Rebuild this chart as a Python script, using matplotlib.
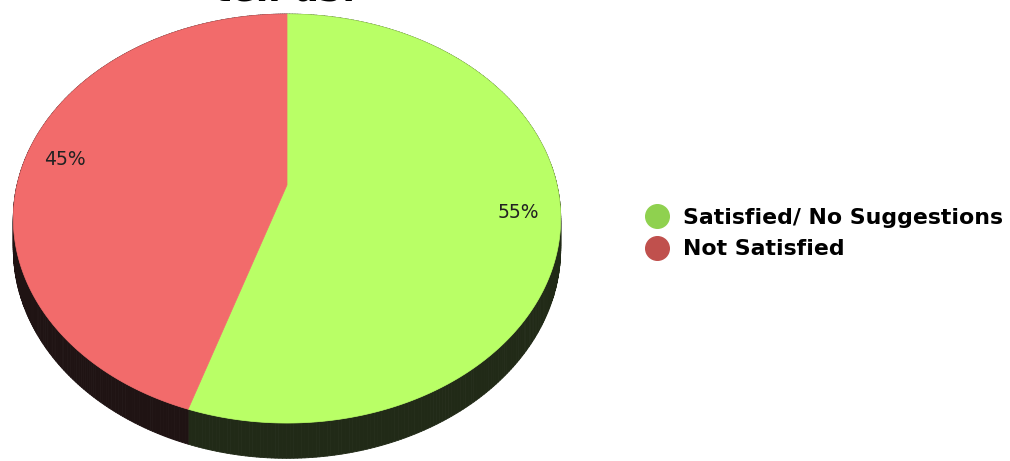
import numpy as np
import matplotlib.pyplot as plt
from matplotlib.patches import Polygon
from matplotlib.collections import PolyCollection
from matplotlib.lines import Line2D

labels = ['Satisfied/ No Suggestions', 'Not Satisfied']
values = [55, 45]
top_colors = ['#B9FF66', '#F26B6B']
side_colors = ['#212A17', '#1F1313']
legend_colors = ['#8FD14F', '#C0504D']
title = 'tell us!'

# pie geometry in pixels (fake 3d with a bit of perspective)
cx, cy = 287, 185
A, B = 270, 199
k = 0.164
depth = 29.5


def proj(t):
    x, z = np.cos(t), np.sin(t)
    w = 1 + k * z
    return cx + A * x / w, cy - B * z / w, w


fig = plt.figure(figsize=(10.1, 4.61), dpi=100)
ax = fig.add_axes([0, 0, 1, 1])
ax.set_xlim(0, 1010)
ax.set_ylim(461, 0)
ax.axis('off')

fracs = np.array(values) / sum(values)
starts = np.pi / 2 - np.concatenate([[0], np.cumsum(fracs)[:-1]]) * 2 * np.pi
ends = starts - fracs * 2 * np.pi

# sides first
for s, e, col in zip(starts, ends, side_colors):
    t = np.linspace(s, e, 300)
    px, py, w = proj(t)
    d = depth / w
    quads = []
    for i in range(len(t) - 1):
        quads.append([(px[i], py[i]), (px[i + 1], py[i + 1]),
                      (px[i + 1], py[i + 1] + d[i + 1]), (px[i], py[i] + d[i])])
    ax.add_collection(PolyCollection(quads, facecolors=col, edgecolors=col,
                                     linewidths=0.6))

# top faces
for s, e, col in zip(starts, ends, top_colors):
    t = np.linspace(s, e, 300)
    px, py, w = proj(t)
    pts = np.column_stack([np.r_[cx, px], np.r_[cy, py]])
    ax.add_patch(Polygon(pts, closed=True, facecolor=col, edgecolor=col,
                         linewidth=0.5))

# percent labels
for s, e, v in zip(starts, ends, values):
    m = (s + e) / 2
    x, z = 0.85 * np.cos(m), 0.85 * np.sin(m)
    w = 1 + k * z
    ax.text(cx + A * x / w, cy - B * z / w, f'{v}%', ha='center', va='center',
            fontsize=13.5, color='#222222')

handles = [Line2D([], [], marker='o', linestyle='', markersize=17,
                  markerfacecolor=c, markeredgecolor=c) for c in legend_colors]
ax.legend(handles, labels, loc='center left', bbox_to_anchor=(0.629, 0.493),
          frameon=False, handletextpad=0.66, labelspacing=0.51,
          prop={'weight': 'bold', 'size': 15.8}, borderpad=0, handlelength=1.0)

fig.text(0.283, 1 - 0.5 / 461, title, ha='center', va='baseline',
         fontsize=26, weight='bold')

fig.savefig('out.png', dpi=100)
